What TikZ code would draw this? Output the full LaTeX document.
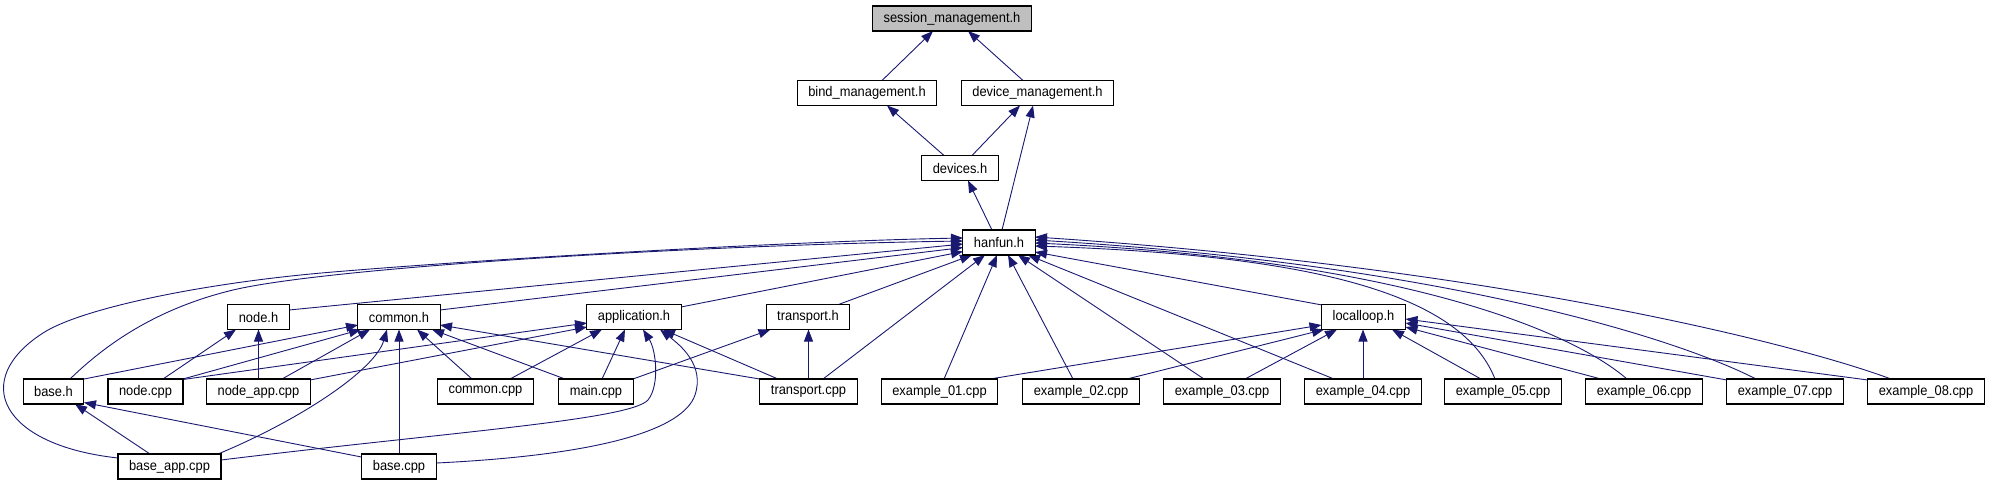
\documentclass[tikz,border=0pt]{standalone}
\usepackage{fontspec}
\setmainfont{Liberation Sans}[FakeStretch=0.92]
\usetikzlibrary{arrows.meta,backgrounds}
\definecolor{edgeblue}{HTML}{191970}
\definecolor{rootgray}{HTML}{BFBFBF}
\begin{document}
\begin{tikzpicture}[x=1pt,y=-1pt,
  box/.style={draw=black, line width=1.1pt, fill=white, minimum height=25pt, inner xsep=11pt, inner ysep=0pt, font=\fontsize{14}{16}\selectfont, anchor=center},
  rootbox/.style={box, fill=rootgray},
  dep/.style={draw=edgeblue, line width=0.9pt, -{Triangle[length=12pt,width=9pt]}}]
\useasboundingbox (0,0) rectangle (1994,485);

% nodes
\node[rootbox] (sess) at (952,18.5) {session\_management.h};
\node[box] (bind) at (867,93) {bind\_management.h};
\node[box] (devm) at (1037.5,93) {device\_management.h};
\node[box] (devices) at (960,168) {devices.h};
\node[box] (hanfun) at (999,242.5) {hanfun.h};
\node[box] (nodeh) at (258.5,317) {node.h};
\node[box] (commonh) at (399,317) {common.h};
\node[box] (apph) at (634,317) {application.h};
\node[box] (transh) at (808,317) {transport.h};
\node[box] (localloop) at (1363.5,317) {localloop.h};
\node[box] (baseh) at (53.5,391.5) {base.h};
\node[box] (nodecpp) at (145.5,391.5) {node.cpp};
\node[box] (nodeappcpp) at (258.5,391.5) {node\_app.cpp};
\node[box] (commoncpp) at (485.5,391.5) {common.cpp};
\node[box] (maincpp) at (596,391.5) {main.cpp};
\node[box] (transcpp) at (808.5,391.5) {transport.cpp};
\node[box] (ex01) at (939.5,391.5) {example\_01.cpp};
\node[box] (ex02) at (1081,391.5) {example\_02.cpp};
\node[box] (ex03) at (1222,391.5) {example\_03.cpp};
\node[box] (ex04) at (1363,391.5) {example\_04.cpp};
\node[box] (ex05) at (1503,391.5) {example\_05.cpp};
\node[box] (ex06) at (1644,391.5) {example\_06.cpp};
\node[box] (ex07) at (1785,391.5) {example\_07.cpp};
\node[box] (ex08) at (1926,391.5) {example\_08.cpp};
\node[box] (baseappcpp) at (169.5,466.5) {base\_app.cpp};
\node[box] (basecpp) at (399,466.5) {base.cpp};

\begin{scope}[on background layer]
% top part
\draw[dep] ([shift={(15,-12.5)}]bind.center) -- ([shift={(-19,12.5)}]sess.center);
\draw[dep] ([shift={(-14.5,-12.5)}]devm.center) -- ([shift={(16,12.5)}]sess.center);
\draw[dep] ([shift={(-16,-12.5)}]devices.center) -- ([shift={(20,12.5)}]bind.center);
\draw[dep] ([shift={(12,-12.5)}]devices.center) -- ([shift={(-17.5,12.5)}]devm.center);
\draw[dep] ([shift={(-7,-12.5)}]hanfun.center) -- ([shift={(8,12.5)}]devices.center);
\draw[dep] ([shift={(3,-12.5)}]hanfun.center) -- ([shift={(-4.5,12.5)}]devm.center);

% into hanfun.h
\draw[dep] ([shift={(-51.5,-8.5)}]baseappcpp.center) .. controls (0,445) and (-30,380) .. (43,333)
   .. controls (80,309) and (200,283) .. (333,272)
   .. controls (500,258) and (800,241) .. ([shift={(-36,-4.5)}]hanfun.center);
\draw[dep] ([shift={(16.5,-12.5)}]baseh.center) .. controls (100,350) and (150,310) .. (233,290)
   .. controls (330,267) and (700,245) .. ([shift={(-36,-1.5)}]hanfun.center);
\draw[dep] ([shift={(30.5,-7)}]nodeh.center) -- ([shift={(-36,1.5)}]hanfun.center);
\draw[dep] ([shift={(41,-7)}]commonh.center) -- ([shift={(-36,5)}]hanfun.center);
\draw[dep] ([shift={(47,-10)}]apph.center) -- ([shift={(-36,9)}]hanfun.center);
\draw[dep] ([shift={(30.5,-12.5)}]transh.center) -- ([shift={(-27,12.5)}]hanfun.center);
\draw[dep] ([shift={(14.5,-12.5)}]transcpp.center) -- ([shift={(-14,12.5)}]hanfun.center);
\draw[dep] ([shift={(4.5,-12.5)}]ex01.center) -- ([shift={(-2,12.5)}]hanfun.center);
\draw[dep] ([shift={(-8,-12.5)}]ex02.center) -- ([shift={(9,12.5)}]hanfun.center);
\draw[dep] ([shift={(-18,-12.5)}]ex03.center) -- ([shift={(19,12.5)}]hanfun.center);
\draw[dep] ([shift={(-29,-12.5)}]ex04.center) -- ([shift={(29,12.5)}]hanfun.center);
\draw[dep] ([shift={(-41.5,-12)}]localloop.center) -- ([shift={(36,9.5)}]hanfun.center);
\draw[dep] ([shift={(-8,-12.5)}]ex05.center) .. controls (1460,290) and (1300,255) .. ([shift={(36,3.5)}]hanfun.center);
\draw[dep] ([shift={(-17,-12.5)}]ex06.center) .. controls (1570,330) and (1400,260) .. ([shift={(36,0.5)}]hanfun.center);
\draw[dep] ([shift={(-29,-12.5)}]ex07.center) .. controls (1680,340) and (1450,265) .. ([shift={(36,-2.5)}]hanfun.center);
\draw[dep] ([shift={(-35,-12.5)}]ex08.center) .. controls (1800,345) and (1500,268) .. ([shift={(36,-5.5)}]hanfun.center);

% into node.h
\draw[dep] ([shift={(17.5,-12.5)}]nodecpp.center) -- ([shift={(-22.5,12.5)}]nodeh.center);
\draw[dep] ([shift={(0,-12.5)}]nodeappcpp.center) -- ([shift={(0,12.5)}]nodeh.center);

% into common.h
\draw[dep] ([shift={(30.5,-12.5)}]baseh.center) -- ([shift={(-41,8)}]commonh.center);
\draw[dep] ([shift={(37.5,-12.5)}]nodecpp.center) -- ([shift={(-38,12.5)}]commonh.center);
\draw[dep] ([shift={(23.5,-12.5)}]nodeappcpp.center) -- ([shift={(-29,12.5)}]commonh.center);
\draw[dep] ([shift={(48.5,-12.5)}]baseappcpp.center) .. controls (300,420) and (375,370) .. ([shift={(-12,12.5)}]commonh.center);
\draw[dep] ([shift={(0,-12.5)}]basecpp.center) -- ([shift={(0,12.5)}]commonh.center);
\draw[dep] ([shift={(-13.5,-12.5)}]commoncpp.center) -- ([shift={(18,12.5)}]commonh.center);
\draw[dep] ([shift={(-31,-12.5)}]maincpp.center) -- ([shift={(33,12.5)}]commonh.center);
\draw[dep] ([shift={(-49,-12.5)}]transcpp.center) -- ([shift={(41,8)}]commonh.center);

% into application.h
\draw[dep] ([shift={(37.5,-12)}]nodecpp.center) -- ([shift={(-47,6)}]apph.center);
\draw[dep] ([shift={(51.5,-11.5)}]nodeappcpp.center) -- ([shift={(-47,10)}]apph.center);
\draw[dep] ([shift={(24.5,-12.5)}]commoncpp.center) -- ([shift={(-32,12.5)}]apph.center);
\draw[dep] ([shift={(6,-12.5)}]maincpp.center) -- ([shift={(-9,12.5)}]apph.center);
\draw[dep] ([shift={(-30.5,-12.5)}]transcpp.center) -- ([shift={(29,12.5)}]apph.center);
\draw[dep] ([shift={(51.5,-6.5)}]baseappcpp.center) .. controls (450,432) and (630,420) .. (648,400)
   .. controls (660,385) and (656,350) .. ([shift={(9,12.5)}]apph.center);
\draw[dep] ([shift={(37.5,-3.5)}]basecpp.center) .. controls (600,455) and (683,430) .. (695,395)
   .. controls (705,365) and (680,345) .. ([shift={(26,12.5)}]apph.center);

% into transport.h
\draw[dep] ([shift={(37,-12.5)}]maincpp.center) -- ([shift={(-37.5,12.5)}]transh.center);
\draw[dep] ([shift={(0,-12.5)}]transcpp.center) -- ([shift={(0.5,12.5)}]transh.center);

% into base.h
\draw[dep] ([shift={(-19.5,-12.5)}]baseappcpp.center) -- ([shift={(21.5,12.5)}]baseh.center);
\draw[dep] ([shift={(-37.5,-9.5)}]basecpp.center) -- ([shift={(30.5,11)}]baseh.center);

% into localloop.h
\draw[dep] ([shift={(50.5,-12.5)}]ex01.center) -- ([shift={(-42,8)}]localloop.center);
\draw[dep] ([shift={(46,-12.5)}]ex02.center) -- ([shift={(-39.5,12.5)}]localloop.center);
\draw[dep] ([shift={(23,-12.5)}]ex03.center) -- ([shift={(-26.5,12.5)}]localloop.center);
\draw[dep] ([shift={(0,-12.5)}]ex04.center) -- ([shift={(-0.5,12.5)}]localloop.center);
\draw[dep] ([shift={(-22,-12.5)}]ex05.center) -- ([shift={(28.5,12.5)}]localloop.center);
\draw[dep] ([shift={(-43,-12.5)}]ex06.center) -- ([shift={(42,10)}]localloop.center);
\draw[dep] ([shift={(-58,-11.5)}]ex07.center) -- ([shift={(42,6)}]localloop.center);
\draw[dep] ([shift={(-58,-11.5)}]ex08.center) -- ([shift={(42,2)}]localloop.center);
\end{scope}
\end{tikzpicture}
\end{document}
